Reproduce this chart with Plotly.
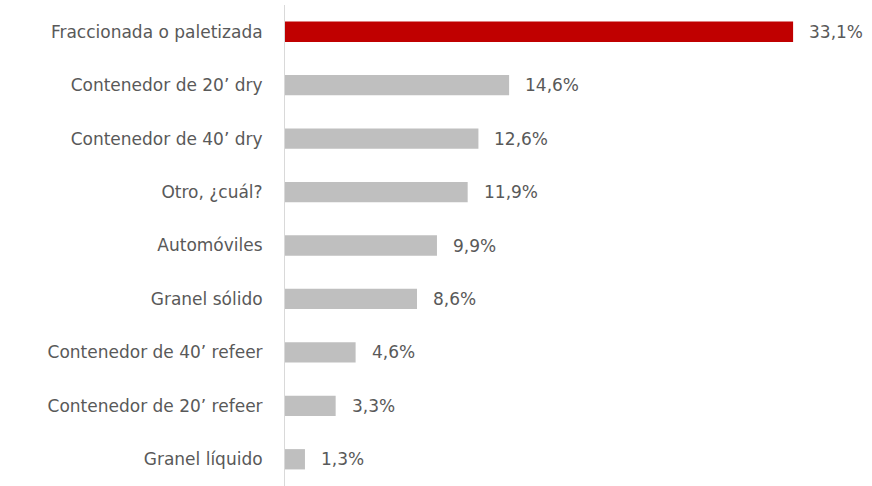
import plotly.graph_objects as go

categories = [
    "Fraccionada o paletizada",
    "Contenedor de 20’ dry",
    "Contenedor de 40’ dry",
    "Otro, ¿cuál?",
    "Automóviles",
    "Granel sólido",
    "Contenedor de 40’ refeer",
    "Contenedor de 20’ refeer",
    "Granel líquido",
]
values = [33.1, 14.6, 12.6, 11.9, 9.9, 8.6, 4.6, 3.3, 1.3]
value_labels = ["33,1%", "14,6%", "12,6%", "11,9%", "9,9%", "8,6%", "4,6%", "3,3%", "1,3%"]

colors = ["#C00000"] + ["#BFBFBF"] * (len(values) - 1)
font_family = "DejaVu Sans, sans-serif"
text_color = "#595959"

fig = go.Figure(
    go.Bar(
        x=values,
        y=categories,
        orientation="h",
        marker=dict(color=colors, line=dict(width=0)),
        width=0.38,
        hoverinfo="skip",
    )
)

for cat, v, lab in zip(categories, values, value_labels):
    fig.add_annotation(
        x=v, y=cat, text=lab, showarrow=False,
        xanchor="left", xshift=14,
        font=dict(family=font_family, size=17, color=text_color),
    )

fig.update_layout(
    width=872, height=486,
    margin=dict(l=285, r=0, t=5, b=0),
    plot_bgcolor="white", paper_bgcolor="white",
    showlegend=False,
    font=dict(family=font_family, size=17, color=text_color),
    xaxis=dict(range=[0, 38.24], visible=False, fixedrange=True),
    yaxis=dict(
        categoryorder="array",
        categoryarray=categories[::-1],
        range=[-0.5, 8.5],
        showline=True, linecolor="#D9D9D9", linewidth=1,
        showgrid=False, zeroline=False,
        ticks="", ticklabelstandoff=18,
        tickfont=dict(family=font_family, size=17, color=text_color),
        fixedrange=True,
    ),
)

fig.write_html("out.html")
